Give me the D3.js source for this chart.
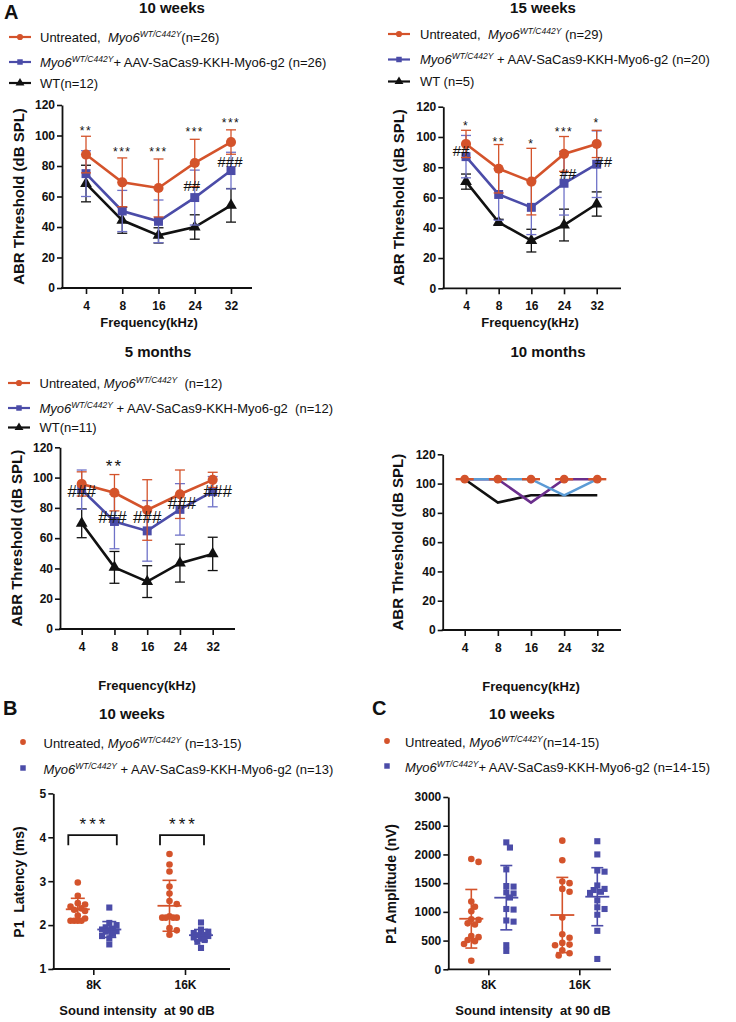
<!DOCTYPE html>
<html><head><meta charset="utf-8">
<script src="https://cdn.jsdelivr.net/npm/d3@7/dist/d3.min.js"></script>
<style>
body{margin:0;background:#fff}
svg{display:block}
text{font-family:Arial,"Liberation Sans",sans-serif;white-space:pre}
</style>
</head><body>
<svg id="fig" width="736" height="1022"></svg>
<script>
// ---------- DATA ----------
const freqs = ["4","8","16","24","32"];
const abrTicks = [0,20,40,60,80,100,120];

// 10 weeks
const w10Untreated   = [87.5, 69.3, 65.6, 82, 95.7];
const w10UntreatedSD = [12, 16, 19, 15.5, 8];
const w10Treated     = [75, 50.5, 43.7, 59.3, 77];
const w10TreatedSD   = [15, 13.5, 14, 18, 12];
const w10WT          = [68.5, 44.4, 34.5, 40, 54.2];
const w10WTSD        = [12, 8.5, 5, 8, 11];

// 15 weeks
const w15Untreated   = [95.4, 79, 70.5, 88.8, 95.4];
const w15UntreatedSD = [9, 16, 22, 11.5, 9];
const w15Treated     = [87, 62, 53.5, 69.4, 82];
const w15TreatedSD   = [14, 17, 18, 21, 22];
const w15WT          = [70.5, 43.6, 31.5, 41.8, 55.7];
const w15WTSD        = [5, 2, 7.5, 10.5, 8];

// 5 months
const m5Untreated    = [95.8, 90, 78.6, 89, 98.5];
const m5UntreatedSD  = [8, 12, 20, 16, 5];
const m5Treated      = [92, 71, 64.8, 79, 90.7];
const m5TreatedSD    = [13, 18, 20, 17, 10];
const m5WT           = [69.8, 40.7, 31.3, 43.5, 49.6];
const m5WTSD         = [9.5, 10.5, 10.5, 12.5, 11];

// 10 months (individual traces)
const m10Untreated   = [103, 103, 103, 103, 103];
const m10MouseBlack  = [103, 87, 92, 92, 92];
const m10MousePurple = [103, 103, 87, 103, 103];
const m10MouseBlue   = [103, 103, 103, 92, 103];

// significance labels
const w10Stars  = [["4",103,"**"],["8",89.5,"***"],["16",89.5,"***"],["24",102,"***"],["32",108,"***"]];
const w10Hashes = [["24",67.5,"##"],["32",83,"###"]];
const w15Stars  = [["4",107,"*"],["8",97,"**"],["16",95.5,"*"],["24",103.5,"***"],["32",109,"*"]];
const w15Hashes = [["4",91,"##"],["24",76,"##"],["32",83.5,"##"]];
const m5Stars   = [["8",107.5,"**"]];
const m5Hashes  = [["4",91,"###"],["8",73.5,"###"],["16",73.5,"###"],["24",83,"###"],["32",91,"###"]];

// Panel B: P1 latency (ms)
const soundCats = ["8K","16K"];
const latTicks = [1,2,3,4,5];
const lat8Untreated  = [2.97,2.67,2.5,2.47,2.42,2.38,2.35,2.32,2.22,2.15,2.1,2.1,2.1,2.1];
const lat8Treated    = [2.4,2.05,2.0,1.95,1.92,1.9,1.88,1.86,1.85,1.8,1.75,1.7,1.56];
const lat16Untreated = [3.62,3.38,3.22,2.88,2.72,2.55,2.48,2.2,2.17,2.17,2.17,2.17,1.93,1.88,1.78];
const lat16Treated   = [2.06,1.9,1.85,1.82,1.8,1.78,1.77,1.75,1.72,1.7,1.66,1.62,1.48];
const latMeanUntreated = [2.36, 2.44], latSDUntreated = [0.25, 0.58];
const latMeanTreated   = [1.90, 1.77], latSDTreated   = [0.18, 0.13];

// Panel C: P1 amplitude (nV)
const ampTicks = [0,500,1000,1500,2000,2500,3000];
const amp8Untreated  = [1920,1870,1180,1090,1010,870,860,800,780,580,560,510,490,440,150];
const amp8Treated    = [2210,2120,1740,1450,1440,1340,1320,1250,1050,1040,850,830,420,320];
const amp16Untreated = [2240,1900,1530,1500,1400,1350,900,610,550,460,430,420,330,280,240];
const amp16Treated   = [2230,2000,1720,1700,1460,1400,1380,1350,1330,1200,1080,1050,950,670,180];
const ampMeanUntreated = [880, 945],  ampSDUntreated = [510, 655];
const ampMeanTreated   = [1247,1264], ampSDTreated   = [560, 505];

// ---------- STYLE ----------
const ORANGE = "#D4532B", BLUE = "#4B4CA8", BLUEBAR = "#6F72C8", BLACK = "#111111";
const PURPLE = "#6A2E8C", LIGHTBLUE = "#5B9BD5";

const svg = d3.select("#fig");

function rich(sel, parts, supSize) {
  let pendingDown = false;
  parts.forEach(p => {
    let t;
    if (typeof p === "string") { t = sel.append("tspan").text(p); }
    else if (p.i) { t = sel.append("tspan").attr("font-style","italic").text(p.i); }
    else if (p.sup) { sel.append("tspan").attr("font-style","italic").attr("font-size", supSize||8.5).attr("dy",-5).text(p.sup); pendingDown = true; return; }
    if (pendingDown) { t.attr("dy", 5); pendingDown = false; }
  });
}
const untreatedParts = (n, sp1, sp2) => ["Untreated," + sp1, {i:"Myo6"}, {sup:"WT/C442Y"}, sp2 + "(n=" + n + ")"];
const treatedParts = (n, sp) => [{i:"Myo6"}, {sup:"WT/C442Y"}, "+ AAV-SaCas9-KKH-Myo6-g2 " + sp + "(n=" + n + ")"];

function marker(g, type, cx, cy, color, s) {
  const sym = {circle:d3.symbolCircle, square:d3.symbolSquare, triangle:d3.symbolTriangle}[type];
  g.append("path").attr("d", d3.symbol().type(sym).size(s)())
    .attr("transform", `translate(${cx},${cy})`).attr("fill", color);
}

function legendLines(x1, x2, tx, baselines, items) {
  items.forEach((it, k) => {
    const cy = baselines[k] - 4.5;
    svg.append("line").attr("x1",x1).attr("x2",x2).attr("y1",cy).attr("y2",cy)
      .attr("stroke",it.color).attr("stroke-width",2.2);
    marker(svg, it.marker, (x1+x2)/2, cy, it.color, it.marker==="triangle"?34:30);
    const t = svg.append("text").attr("x",tx).attr("y",baselines[k]).attr("font-size",13).attr("fill","#111");
    rich(t, it.parts);
  });
}
function legendDots(mx, tx, baselines, items) {
  items.forEach((it, k) => {
    const cy = baselines[k] - 6;
    marker(svg, it.marker, mx, cy, it.color, it.marker==="circle"?26:30);
    const t = svg.append("text").attr("x",tx).attr("y",baselines[k]).attr("font-size",13).attr("fill","#111");
    rich(t, it.parts);
  });
}

function title(x, y, s) {
  svg.append("text").attr("x",x).attr("y",y).attr("text-anchor","middle")
    .attr("font-size",15).attr("font-weight","bold").attr("fill","#111").text(s);
}
function panelLetter(x, y, s) {
  svg.append("text").attr("x",x).attr("y",y).attr("font-size",20).attr("font-weight","bold").attr("fill","#111").text(s);
}

function styleAxis(g) {
  g.selectAll("path.domain").attr("stroke","#111").attr("stroke-width",1.8);
  g.selectAll(".tick line").attr("stroke","#111").attr("stroke-width",1.6);
  g.selectAll(".tick text").attr("font-size",12).attr("font-weight","bold").attr("fill","#111")
    .attr("font-family","Arial, 'Liberation Sans', sans-serif");
}

function abrFrame(c) {
  const x = d3.scalePoint().domain(freqs).range([c.xFirst, c.xLast]);
  const y = d3.scaleLinear().domain([0,120]).range([c.yBottom, c.yTop]);
  const gy = svg.append("g").attr("transform",`translate(${c.x0},0)`)
    .call(d3.axisLeft(y).tickValues(abrTicks).tickFormat(d3.format("d")).tickSize(5).tickSizeOuter(0).tickPadding(2));
  styleAxis(gy);
  const gx = svg.append("g").attr("transform",`translate(0,${c.yBottom})`)
    .call(d3.axisBottom(x).tickSize(6).tickSizeOuter(0).tickPadding(7));
  gx.select("path.domain").remove();
  styleAxis(gx);
  svg.append("line").attr("x1",c.x0-0.9).attr("x2",c.xEnd).attr("y1",c.yBottom).attr("y2",c.yBottom)
    .attr("stroke","#111").attr("stroke-width",1.8);
  svg.append("text").attr("transform",`translate(${c.ylabX},${(c.yTop+c.yBottom)/2}) rotate(-90)`)
    .attr("text-anchor","middle").attr("font-size",15).attr("font-weight","bold").attr("fill","#111")
    .text("ABR Threshold (dB SPL)");
  svg.append("text").attr("x",c.xlabX).attr("y",c.xlabY).attr("text-anchor","middle")
    .attr("font-size",13).attr("font-weight","bold").attr("fill","#111").text("Frequency(kHz)");
  return {x, y};
}

function abrSeries(sc, vals, sds, color, barColor, type, size) {
  const g = svg.append("g");
  if (sds) {
    vals.forEach((v,i) => {
      if (v == null) return;
      const cx = sc.x(freqs[i]);
      g.append("line").attr("x1",cx).attr("x2",cx).attr("y1",sc.y(v-sds[i])).attr("y2",sc.y(v+sds[i]))
        .attr("stroke",barColor).attr("stroke-width",1.3);
      [v-sds[i], v+sds[i]].forEach(e => g.append("line").attr("x1",cx-5).attr("x2",cx+5)
        .attr("y1",sc.y(e)).attr("y2",sc.y(e)).attr("stroke",barColor).attr("stroke-width",1.3));
    });
  }
  const line = d3.line().defined(d => d != null).x((d,i) => sc.x(freqs[i])).y(d => sc.y(d));
  g.append("path").datum(vals).attr("d", line).attr("fill","none").attr("stroke",color).attr("stroke-width",2.6);
  if (type) vals.forEach((v,i) => { if (v != null) marker(g, type, sc.x(freqs[i]), sc.y(v), color, size); });
}

function annotate(sc, list, size, dxs, spacing) {
  list.forEach((a, k) => {
    svg.append("text").attr("x", sc.x(a[0]) + (dxs ? dxs[k] : 0)).attr("y", sc.y(a[1]))
      .attr("text-anchor","middle").attr("dominant-baseline","central")
      .attr("font-size", size).attr("fill","#111")
      .attr("letter-spacing", spacing || 0)
      .text(a[2]);
  });
}

// ---------- PANEL A ----------
panelLetter(4, 19, "A");

// 10 weeks
title(172, 13, "10 weeks");
legendLines(9, 31, 40, [41.5, 66.5, 87.5], [
  {color:ORANGE, marker:"circle", parts: untreatedParts(26, "  ", "")},
  {color:BLUE, marker:"square", parts: treatedParts(26, "")},
  {color:BLACK, marker:"triangle", parts: ["WT(n=12)"]}
]);
const sA1 = abrFrame({x0:62, xEnd:252, yTop:105, yBottom:288, xFirst:86, xLast:231, ylabX:24, xlabX:149, xlabY:327});
abrSeries(sA1, w10WT, w10WTSD, BLACK, BLACK, "triangle", 60);
abrSeries(sA1, w10Treated, w10TreatedSD, BLUE, BLUEBAR, "square", 80);
abrSeries(sA1, w10Untreated, w10UntreatedSD, ORANGE, ORANGE, "circle", 80);
annotate(sA1, w10Stars, 12, null, 1.5);
annotate(sA1, w10Hashes, 15, [-3, -1]);

// 15 weeks
title(543, 13, "15 weeks");
legendLines(388, 410, 420, [38.5, 64, 86], [
  {color:ORANGE, marker:"circle", parts: untreatedParts(29, "  ", " ")},
  {color:BLUE, marker:"square", parts: [{i:"Myo6"}, {sup:"WT/C442Y"}, " + AAV-SaCas9-KKH-Myo6-g2 (n=20)"]},
  {color:BLACK, marker:"triangle", parts: ["WT (n=5)"]}
]);
const sA2 = abrFrame({x0:443.3, xEnd:621, yTop:106.7, yBottom:288.3, xFirst:466, xLast:596.7, ylabX:404, xlabX:530, xlabY:327});
abrSeries(sA2, w15WT, w15WTSD, BLACK, BLACK, "triangle", 60);
abrSeries(sA2, w15Treated, w15TreatedSD, BLUE, BLUEBAR, "square", 80);
abrSeries(sA2, w15Untreated, w15UntreatedSD, ORANGE, ORANGE, "circle", 80);
annotate(sA2, w15Stars, 12, null, 1.5);
annotate(sA2, w15Hashes, 15, [-5, 4, 7]);

// 5 months
title(158, 357, "5 months");
legendLines(8, 30, 39.5, [387.5, 412.5, 432], [
  {color:ORANGE, marker:"circle", parts: untreatedParts(12, " ", "  ")},
  {color:BLUE, marker:"square", parts: [{i:"Myo6"}, {sup:"WT/C442Y"}, " + AAV-SaCas9-KKH-Myo6-g2  (n=12)"]},
  {color:BLACK, marker:"triangle", parts: ["WT(n=11)"]}
]);
const sA3 = abrFrame({x0:60, xEnd:235, yTop:447.3, yBottom:629, xFirst:81.7, xLast:212.7, ylabX:22, xlabX:147, xlabY:690});
abrSeries(sA3, m5WT, m5WTSD, BLACK, BLACK, "triangle", 60);
abrSeries(sA3, m5Treated, m5TreatedSD, BLUE, BLUEBAR, "square", 80);
abrSeries(sA3, m5Untreated, m5UntreatedSD, ORANGE, ORANGE, "circle", 80);
annotate(sA3, m5Stars, 17, null, 2);
annotate(sA3, m5Hashes, 17, [0, -2, 0, 2, 5]);

// 10 months
title(548, 357, "10 months");
const sA4 = abrFrame({x0:442.7, xEnd:621, yTop:454.3, yBottom:630, xFirst:464.7, xLast:597.3, ylabX:403, xlabX:531, xlabY:691});
abrSeries(sA4, m10MouseBlack, null, BLACK, BLACK, null, 0);
abrSeries(sA4, m10MousePurple, null, PURPLE, PURPLE, null, 0);
abrSeries(sA4, m10MouseBlue, null, LIGHTBLUE, LIGHTBLUE, null, 0);
(function(){
  const g = svg.append("g");
  m10Untreated.forEach((v,i) => {
    const cx = sA4.x(freqs[i]), cy = sA4.y(v);
    g.append("line").attr("x1",cx-9).attr("x2",cx+9).attr("y1",cy).attr("y2",cy).attr("stroke",ORANGE).attr("stroke-width",2.4);
    marker(g, "circle", cx, cy, ORANGE, 60);
  });
})();

// ---------- SCATTER PANELS ----------
// compact swarm: spread overlapping points sideways within a limited width
function swarm(vals, y, r, maxOff) {
  const placed = [];
  const order = vals.map((v,i)=>i).sort((a,b)=>vals[b]-vals[a]);
  const off = new Array(vals.length).fill(0);
  const step = r * 1.1;
  const cands = [0];
  for (let k=1; k*step <= maxOff; k++) cands.push(k*step, -k*step);
  order.forEach(i => {
    const py = y(vals[i]);
    let best = 0, bestD = -1;
    for (const c of cands) {
      const d = placed.length ? Math.min(...placed.map(p => Math.hypot(p[0]-c, p[1]-py))) : Infinity;
      if (d >= 1.6*r) { best = c; bestD = d; break; }
      if (d > bestD) { bestD = d; best = c; }
    }
    off[i] = best; placed.push([best, py]);
  });
  return off;
}

function scatterGroup(cx, vals, mean, sd, y, color, type, r, halfMean, halfCap) {
  const g = svg.append("g");
  const off = swarm(vals, y, r, 10);
  vals.forEach((v,i) => marker(g, type, cx + off[i], y(v), color, type==="circle" ? Math.PI*r*r : (2*r-0.5)*(2*r-0.5)));
  g.append("line").attr("x1",cx).attr("x2",cx).attr("y1",y(mean-sd)).attr("y2",y(mean+sd)).attr("stroke",color).attr("stroke-width",1.6);
  [mean-sd, mean+sd].forEach(e => g.append("line").attr("x1",cx-halfCap).attr("x2",cx+halfCap)
     .attr("y1",y(e)).attr("y2",y(e)).attr("stroke",color).attr("stroke-width",1.6));
  g.append("line").attr("x1",cx-halfMean).attr("x2",cx+halfMean).attr("y1",y(mean)).attr("y2",y(mean))
     .attr("stroke",color).attr("stroke-width",1.8);
}

function scatterFrame(c) {
  const x = d3.scalePoint().domain(soundCats).range([c.xFirst, c.xLast]);
  const y = d3.scaleLinear().domain(c.domain).range([c.yBottom, c.yTop]);
  const gy = svg.append("g").attr("transform",`translate(${c.x0},0)`)
    .call(d3.axisLeft(y).tickValues(c.ticks).tickFormat(d3.format("d")).tickSize(5).tickSizeOuter(0).tickPadding(2));
  styleAxis(gy);
  const gx = svg.append("g").attr("transform",`translate(0,${c.yBottom})`)
    .call(d3.axisBottom(x).tickSize(6).tickSizeOuter(0).tickPadding(5));
  gx.select("path.domain").remove();
  styleAxis(gx);
  svg.append("line").attr("x1",c.x0-0.9).attr("x2",c.xEnd).attr("y1",c.yBottom).attr("y2",c.yBottom)
    .attr("stroke","#111").attr("stroke-width",1.8);
  svg.append("text").attr("transform",`translate(${c.ylabX},${c.ylabY}) rotate(-90)`)
    .attr("text-anchor","middle").attr("font-size",14).attr("font-weight","bold").attr("fill","#111").text(c.ylab);
  svg.append("text").attr("x",c.xlabX).attr("y",c.xlabY).attr("text-anchor","middle")
    .attr("font-size",13).attr("font-weight","bold").attr("fill","#111").text("Sound intensity  at 90 dB");
  return {x, y};
}

// Panel B
panelLetter(3, 715, "B");
title(132, 719, "10 weeks");
legendDots(23, 43.5, [748, 774], [
  {color:ORANGE, marker:"circle", parts: ["Untreated, ", {i:"Myo6"}, {sup:"WT/C442Y"}, " (n=13-15)"]},
  {color:BLUE, marker:"square", parts: [{i:"Myo6"}, {sup:"WT/C442Y"}, " + AAV-SaCas9-KKH-Myo6-g2 (n=13)"]}
]);
const sB = scatterFrame({x0:53.3, xEnd:230, yTop:793.4, yBottom:969, xFirst:93.3, xLast:185, domain:[1,5], ticks:latTicks,
  ylab:"P1  Latency (ms)", ylabX:24, ylabY:882, xlabX:137, xlabY:1015});
const latU = [lat8Untreated, lat16Untreated], latT = [lat8Treated, lat16Treated];
soundCats.forEach((c,k) => {
  scatterGroup(sB.x(c)-15.5, latU[k], latMeanUntreated[k], latSDUntreated[k], sB.y, ORANGE, "circle", 3.3, 12, 7);
  scatterGroup(sB.x(c)+16, latT[k], latMeanTreated[k], latSDTreated[k], sB.y, BLUE, "square", 3.3, 12, 7);
});
// brackets
soundCats.forEach((c,k) => {
  const x1 = sB.x(c) - 25, x2 = sB.x(c) + (k===0 ? 23.5 : 19), yTop = sB.y(4.05), yLeg = sB.y(3.82);
  svg.append("path").attr("d", `M${x1},${yLeg}V${yTop}H${x2}V${yLeg}`).attr("fill","none").attr("stroke","#111").attr("stroke-width",1.8);
  svg.append("text").attr("x", (x1+x2)/2 + 1.5).attr("y", sB.y(4.3)).attr("text-anchor","middle").attr("dominant-baseline","central")
    .attr("font-size",17).attr("letter-spacing",3).attr("fill","#111").text("***");
});

// Panel C
panelLetter(372, 715, "C");
title(522, 719, "10 weeks");
legendDots(387, 405, [747, 772], [
  {color:ORANGE, marker:"circle", parts: ["Untreated, ", {i:"Myo6"}, {sup:"WT/C442Y"}, "(n=14-15)"]},
  {color:BLUE, marker:"square", parts: [{i:"Myo6"}, {sup:"WT/C442Y"}, "+ AAV-SaCas9-KKH-Myo6-g2 (n=14-15)"]}
]);
const sC = scatterFrame({x0:448.3, xEnd:611, yTop:797, yBottom:969.3, xFirst:488.3, xLast:579.3, domain:[0,3000], ticks:ampTicks,
  ylab:"P1 Amplitude (nV)", ylabX:396, ylabY:884, xlabX:533, xlabY:1015});
const ampU = [amp8Untreated, amp16Untreated], ampT = [amp8Treated, amp16Treated];
soundCats.forEach((c,k) => {
  scatterGroup(sC.x(c)-17, ampU[k], ampMeanUntreated[k], ampSDUntreated[k], sC.y, ORANGE, "circle", 3.3, 12, 6);
  scatterGroup(sC.x(c)+18, ampT[k], ampMeanTreated[k], ampSDTreated[k], sC.y, BLUE, "square", 3.3, 12, 6);
});
</script>
</body></html>
